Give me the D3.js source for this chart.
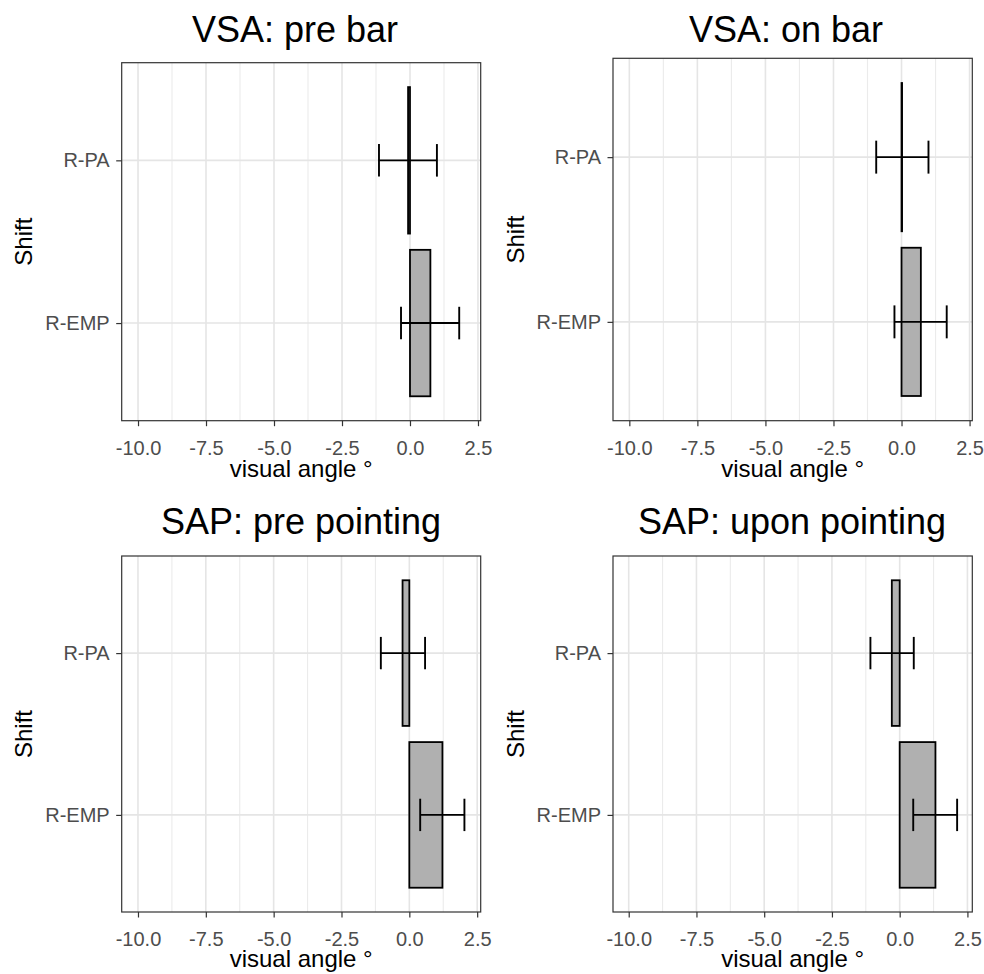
<!DOCTYPE html>
<html>
<head>
<meta charset="utf-8">
<script src="https://cdn.jsdelivr.net/npm/d3@7"></script>
<style>
  html, body { margin: 0; padding: 0; background: #fff; }
  svg { display: block; font-family: "Liberation Sans", Arial, sans-serif; }
</style>
</head>
<body>
<svg id="chart" width="984" height="974"></svg>
<script>
// ---- data ----
const categories = ["R-PA", "R-EMP"];
const panelTitles = ["VSA: pre bar", "VSA: on bar", "SAP: pre pointing", "SAP: upon pointing"];
const barValues = [[-0.07, 0.75], [0.02, 0.71], [-0.25, 1.22], [-0.29, 1.32]];
const errLow    = [[-1.14, -0.33], [-0.93, -0.26], [-1.05, 0.40], [-1.08, 0.50]];
const errHigh   = [[0.99, 1.81], [0.99, 1.66], [0.58, 2.03], [0.52, 2.12]];
const xTicks = [-10, -7.5, -5, -2.5, 0, 2.5];
const xTickLabels = ["-10.0", "-7.5", "-5.0", "-2.5", "0.0", "2.5"];
const xMinor = [-8.75, -6.25, -3.75, -1.25, 1.25];
const xDomains = [[-10.6, 2.6], [-10.6, 2.6], [-10.6, 2.63], [-10.58, 2.68]];
const xTitle = "visual angle °";
const yTitle = "Shift";

// ---- layout ----
const panelBoxes = [
  {l: 121.7, r: 480.7, t: 62.7, b: 420.7, tx: 295, ty: 42.3},
  {l: 613,   r: 972.3, t: 58.3, b: 420.7, tx: 786, ty: 42.3},
  {l: 121.7, r: 480.7, t: 556,  b: 912,   tx: 301, ty: 533.7},
  {l: 613,   r: 972.3, t: 556,  b: 912,   tx: 792, ty: 533.7}
];

const svg = d3.select("#chart");
svg.append("rect").attr("width", 984).attr("height", 974).attr("fill", "#fff");

panelBoxes.forEach((box, p) => {
  const g = svg.append("g");
  const x = d3.scaleLinear().domain(xDomains[p]).range([box.l, box.r]);
  const y = d3.scaleLinear().domain([0.4, 2.6]).range([box.t, box.b]);

  g.append("rect").attr("x", box.l).attr("y", box.t)
    .attr("width", box.r - box.l).attr("height", box.b - box.t).attr("fill", "#fff");

  // minor grid
  g.selectAll(".gmin").data(xMinor).join("line")
    .attr("x1", d => x(d)).attr("x2", d => x(d))
    .attr("y1", box.t).attr("y2", box.b)
    .attr("stroke", "#EBEBEB").attr("stroke-width", 1.1);
  // major grid
  g.selectAll(".gmaj").data(xTicks).join("line")
    .attr("x1", d => x(d)).attr("x2", d => x(d))
    .attr("y1", box.t).attr("y2", box.b)
    .attr("stroke", "#E5E5E5").attr("stroke-width", 1.6);
  g.selectAll(".gy").data(categories).join("line")
    .attr("x1", box.l).attr("x2", box.r)
    .attr("y1", (d, i) => y(i + 1)).attr("y2", (d, i) => y(i + 1))
    .attr("stroke", "#E5E5E5").attr("stroke-width", 1.6);

  // bars
  g.selectAll(".bar").data(categories).join("rect")
    .attr("x", (d, i) => Math.min(x(0), x(barValues[p][i])))
    .attr("width", (d, i) => Math.abs(x(barValues[p][i]) - x(0)))
    .attr("y", (d, i) => y(i + 1 - 0.45))
    .attr("height", y(1.45) - y(0.55))
    .attr("fill", "#B0B0B0").attr("stroke", "#000").attr("stroke-width", 1.8);

  // error bars
  categories.forEach((c, i) => {
    const yc = y(i + 1);
    const lo = x(errLow[p][i]), hi = x(errHigh[p][i]);
    const y0 = y(i + 1 - 0.1), y1 = y(i + 1 + 0.1);
    const eg = g.append("g").attr("stroke", "#000").attr("stroke-width", 1.9);
    eg.append("line").attr("x1", lo).attr("x2", hi).attr("y1", yc).attr("y2", yc);
    eg.append("line").attr("x1", lo).attr("x2", lo).attr("y1", y0).attr("y2", y1);
    eg.append("line").attr("x1", hi).attr("x2", hi).attr("y1", y0).attr("y2", y1);
  });

  // border
  g.append("rect").attr("x", box.l).attr("y", box.t)
    .attr("width", box.r - box.l).attr("height", box.b - box.t)
    .attr("fill", "none").attr("stroke", "#333").attr("stroke-width", 1.2);

  // x axis
  const xa = g.append("g").attr("transform", `translate(0,${box.b})`)
    .call(d3.axisBottom(x).tickValues(xTicks).tickFormat((d, i) => xTickLabels[i])
      .tickSize(5.5).tickPadding(14.4));
  xa.select(".domain").remove();
  xa.selectAll("line").attr("stroke", "#333").attr("stroke-width", 1.2);
  xa.selectAll("text").attr("fill", "#4D4D4D").style("font-size", "20px")
    .style("font-family", "Liberation Sans, Arial, sans-serif");

  // y axis
  const ya = g.append("g").attr("transform", `translate(${box.l},0)`)
    .call(d3.axisLeft(y).tickValues([1, 2]).tickFormat(d => categories[d - 1])
      .tickSize(5.5).tickPadding(6.5));
  ya.select(".domain").remove();
  ya.selectAll("line").attr("stroke", "#333").attr("stroke-width", 1.2);
  ya.selectAll("text").attr("fill", "#4D4D4D").style("font-size", "20px")
    .style("font-family", "Liberation Sans, Arial, sans-serif");

  // titles
  g.append("text").attr("x", box.tx).attr("y", box.ty)
    .attr("text-anchor", "middle").style("font-size", "36px").attr("fill", "#000")
    .text(panelTitles[p]);
  g.append("text").attr("x", (box.l + box.r) / 2).attr("y", box.b + (p < 2 ? 56 : 54.7))
    .attr("text-anchor", "middle").style("font-size", "24px").attr("fill", "#000")
    .text(xTitle);
  const yc = (box.t + box.b) / 2;
  g.append("text").attr("transform", `translate(${box.l - 89.4},${yc}) rotate(-90)`)
    .attr("text-anchor", "middle").style("font-size", "24px").attr("fill", "#000")
    .text(yTitle);
});
</script>
</body>
</html>
